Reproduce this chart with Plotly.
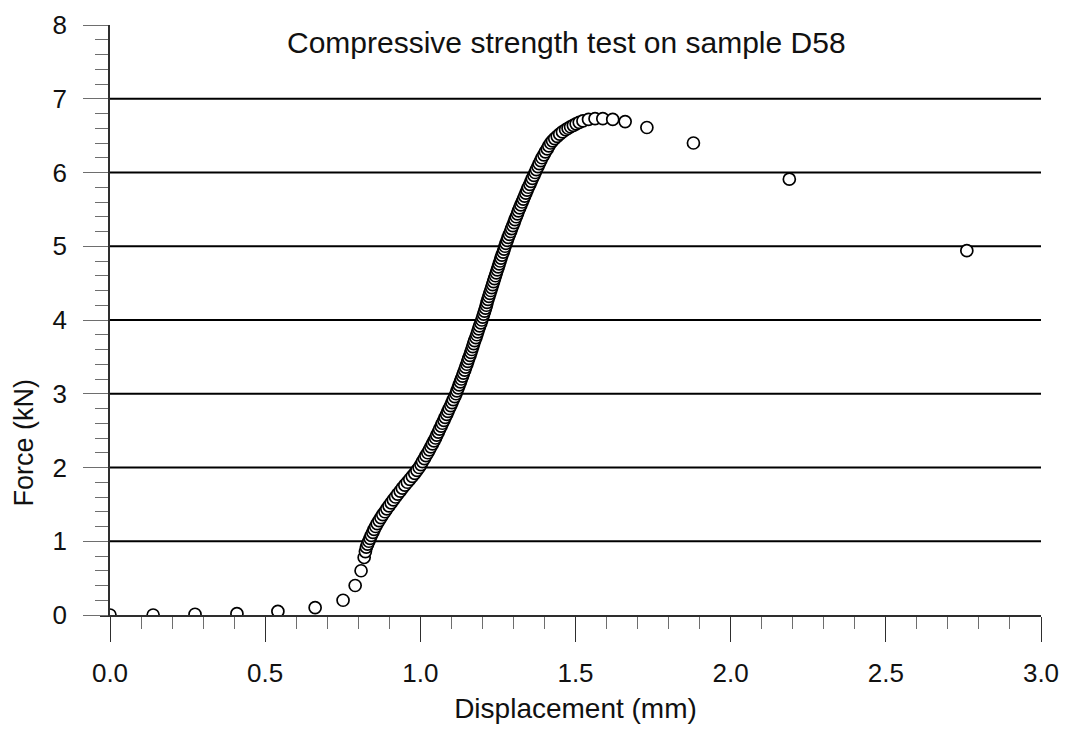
import plotly.graph_objects as go

# Compressive strength test, sample D58: displacement (mm) vs force (kN)
displacement_mm = [
    # toe region
    0.000, 0.139, 0.274, 0.409, 0.541, 0.661, 0.751, 0.790, 0.809, 0.819, 0.823,
    # loading branch
    0.826, 0.830, 0.834, 0.838, 0.842, 0.847, 0.851, 0.856, 0.861, 0.867,
    0.873, 0.879, 0.886, 0.892, 0.899, 0.906, 0.913, 0.920, 0.927, 0.935,
    0.942, 0.950, 0.958, 0.966, 0.974, 0.982, 0.989, 0.996, 1.002, 1.007,
    1.013, 1.018, 1.024, 1.029, 1.034, 1.039, 1.044, 1.049, 1.053, 1.058,
    1.062, 1.067, 1.071, 1.076, 1.080, 1.085, 1.089, 1.093, 1.098, 1.102,
    1.106, 1.111, 1.115, 1.118, 1.122, 1.125, 1.129, 1.132, 1.136, 1.139,
    1.143, 1.146, 1.150, 1.153, 1.156, 1.160, 1.163, 1.166, 1.169, 1.172,
    1.175, 1.179, 1.182, 1.185, 1.188, 1.191, 1.195, 1.198, 1.201, 1.204,
    1.207, 1.210, 1.213, 1.215, 1.218, 1.221, 1.224, 1.227, 1.230, 1.233,
    1.236, 1.239, 1.242, 1.245, 1.248, 1.251, 1.254, 1.257, 1.260, 1.263,
    1.267, 1.270, 1.273, 1.276, 1.280, 1.283, 1.287, 1.291, 1.294, 1.298,
    1.302, 1.305, 1.309, 1.313, 1.316, 1.320, 1.324, 1.328, 1.332, 1.336,
    1.340, 1.344, 1.348, 1.353, 1.357, 1.361, 1.366, 1.370, 1.374, 1.379,
    1.383, 1.388, 1.392, 1.398, 1.403, 1.409, 1.414, 1.420, 1.426, 1.433,
    1.441, 1.449, 1.458, 1.468, 1.476, 1.484, 1.493, 1.502, 1.512, 1.524,
    # peak and softening
    1.542, 1.563, 1.588, 1.620, 1.660, 1.730, 1.880, 2.189, 2.761,
]
force_kn = [
    # toe region
    0.00, 0.00, 0.01, 0.02, 0.05, 0.10, 0.20, 0.40, 0.60, 0.78, 0.86,
    # loading branch
    0.92, 0.96, 1.00, 1.04, 1.08, 1.12, 1.16, 1.20, 1.24, 1.28,
    1.32, 1.36, 1.40, 1.44, 1.48, 1.52, 1.56, 1.60, 1.64, 1.68,
    1.72, 1.76, 1.80, 1.84, 1.88, 1.92, 1.96, 2.00, 2.04, 2.08,
    2.12, 2.16, 2.20, 2.24, 2.28, 2.32, 2.36, 2.40, 2.44, 2.48,
    2.52, 2.56, 2.60, 2.64, 2.68, 2.72, 2.76, 2.80, 2.84, 2.88,
    2.92, 2.96, 3.00, 3.04, 3.08, 3.12, 3.16, 3.20, 3.24, 3.28,
    3.32, 3.36, 3.40, 3.44, 3.48, 3.52, 3.56, 3.60, 3.64, 3.68,
    3.72, 3.76, 3.80, 3.84, 3.88, 3.92, 3.96, 4.00, 4.04, 4.08,
    4.12, 4.16, 4.20, 4.24, 4.28, 4.32, 4.36, 4.40, 4.44, 4.48,
    4.52, 4.56, 4.60, 4.64, 4.68, 4.72, 4.76, 4.80, 4.84, 4.88,
    4.92, 4.96, 5.00, 5.04, 5.08, 5.12, 5.16, 5.20, 5.24, 5.28,
    5.32, 5.36, 5.40, 5.44, 5.48, 5.52, 5.56, 5.60, 5.64, 5.68,
    5.72, 5.76, 5.80, 5.84, 5.88, 5.92, 5.96, 6.00, 6.04, 6.08,
    6.12, 6.16, 6.20, 6.24, 6.28, 6.32, 6.36, 6.40, 6.43, 6.46,
    6.49, 6.52, 6.55, 6.58, 6.60, 6.62, 6.64, 6.66, 6.68, 6.70,
    # peak and softening
    6.72, 6.73, 6.73, 6.72, 6.69, 6.61, 6.40, 5.91, 4.94,
]

x_range = [0, 3]
y_range = [0, 8]
x_tick_values = [0.0, 0.5, 1.0, 1.5, 2.0, 2.5, 3.0]
x_tick_labels = ["0.0", "0.5", "1.0", "1.5", "2.0", "2.5", "3.0"]
y_tick_values = [0, 1, 2, 3, 4, 5, 6, 7, 8]
grid_levels = [1, 2, 3, 4, 5, 6, 7]

FONT = "Liberation Sans, Arial, sans-serif"
TEXT = "#111111"
AXIS_DARK = "#2e2e2e"
TICK_GREY = "#6e6e6e"

fig = go.Figure()
fig.add_trace(go.Scatter(
    x=displacement_mm,
    y=force_kn,
    mode="markers",
    marker=dict(symbol="circle", size=12, color="white",
                line=dict(color="black", width=1.7)),
    showlegend=False,
))

# empty helpers so the tick-bearing overlay axes get drawn
fig.add_trace(go.Scatter(x=x_range, y=y_range, xaxis="x2", yaxis="y", mode="markers",
                         marker=dict(opacity=0), hoverinfo="skip", showlegend=False))
fig.add_trace(go.Scatter(x=x_range, y=y_range, xaxis="x", yaxis="y2", mode="markers",
                         marker=dict(opacity=0), hoverinfo="skip", showlegend=False))

# horizontal reference lines at whole kN
for level in grid_levels:
    fig.add_shape(type="line", xref="paper", x0=0, x1=1, yref="y", y0=level, y1=level,
                  line=dict(color="black", width=2), layer="below")

# data axes: wide white lines trim the markers sitting on the frame edges
fig.update_layout(
    xaxis=dict(range=x_range, showgrid=False, zeroline=False, showline=True,
               linecolor="white", linewidth=10, ticks="", showticklabels=False),
    yaxis=dict(range=y_range, showgrid=False, zeroline=False, showline=True,
               linecolor="white", linewidth=10, ticks="", showticklabels=False),
)

# visible axes with major and minor ticks
fig.update_layout(
    xaxis2=dict(
        overlaying="x", anchor="y", side="bottom", range=x_range,
        showgrid=False, zeroline=False,
        showline=True, linecolor=AXIS_DARK, linewidth=1.5,
        tickmode="array", tickvals=x_tick_values, ticktext=x_tick_labels,
        ticks="outside", ticklen=25, tickwidth=1.2, tickcolor=AXIS_DARK,
        ticklabelstandoff=9,
        minor=dict(dtick=0.1, ticks="outside", ticklen=12, tickwidth=1.2, tickcolor=TICK_GREY),
        tickfont=dict(family=FONT, size=26, color=TEXT),
        title=dict(text="Displacement (mm)", font=dict(family=FONT, size=28, color=TEXT),
                   standoff=11),
    ),
    yaxis2=dict(
        overlaying="y", anchor="x", side="left", range=y_range,
        showgrid=False, zeroline=False,
        showline=True, linecolor=AXIS_DARK, linewidth=1.5,
        tickmode="array", tickvals=y_tick_values,
        ticks="outside", ticklen=25, tickwidth=1.2, tickcolor=TICK_GREY,
        ticklabelstandoff=11,
        minor=dict(dtick=0.2, ticks="outside", ticklen=13, tickwidth=1.2, tickcolor=TICK_GREY),
        tickfont=dict(family=FONT, size=26, color=TEXT),
    ),
)

fig.add_annotation(
    text="Force (kN)", textangle=-90, xref="paper", yref="paper",
    x=-0.092, y=0.293, showarrow=False, xanchor="center", yanchor="middle",
    font=dict(family=FONT, size=27, color=TEXT),
)
fig.add_annotation(
    text="Compressive strength test on sample D58", xref="paper", yref="paper",
    x=0.49, y=0.971, showarrow=False, xanchor="center", yanchor="middle",
    font=dict(family=FONT, size=30, color=TEXT),
)

fig.update_layout(
    width=1067, height=729,
    margin=dict(l=110, r=26, t=25, b=114, autoexpand=False),
    plot_bgcolor="white", paper_bgcolor="white",
)

fig.write_html("out.html")
